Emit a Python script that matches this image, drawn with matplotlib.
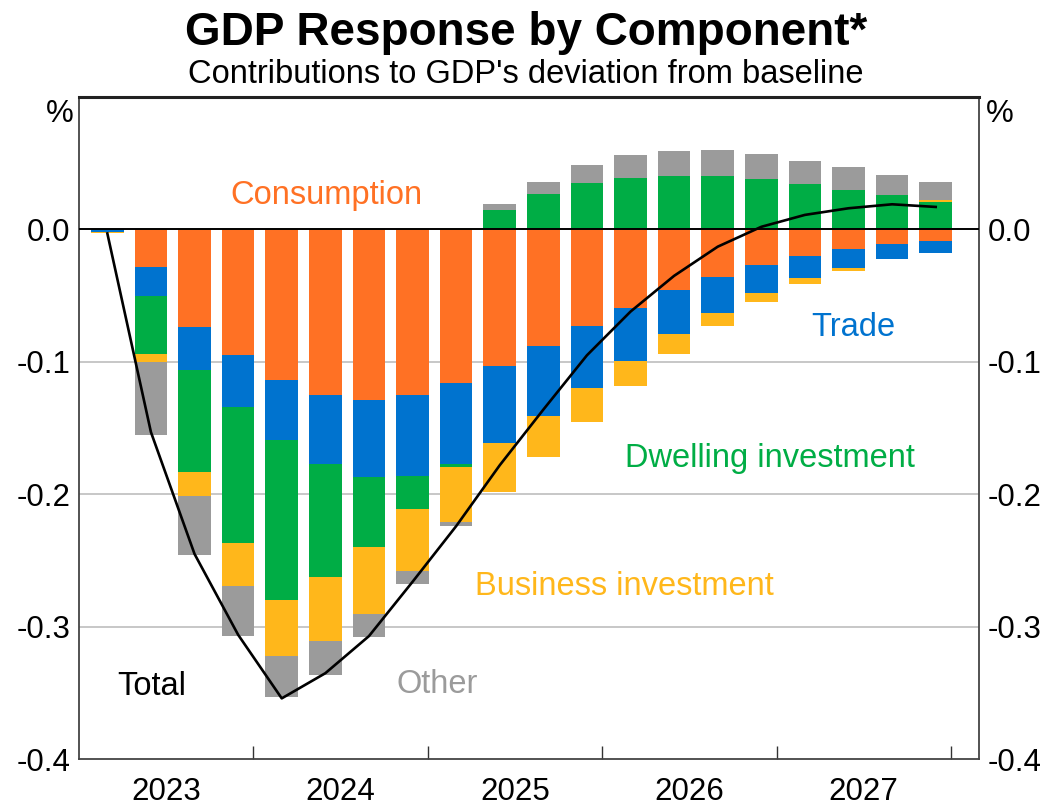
import numpy as np
import matplotlib
matplotlib.use("Agg")
import matplotlib.pyplot as plt

plt.rcParams['font.family'] = ['Liberation Sans', 'DejaVu Sans']

# Contributions to GDP's deviation from baseline, % (quarterly, 2023 Q1 - 2027 Q4)
consumption = [0.0, -0.028, -0.074, -0.095, -0.114, -0.125, -0.129, -0.125, -0.116, -0.103,
               -0.088, -0.073, -0.059, -0.046, -0.036, -0.027, -0.020, -0.015, -0.011, -0.009]
trade = [-0.002, -0.022, -0.032, -0.039, -0.045, -0.052, -0.058, -0.061, -0.061, -0.058,
         -0.053, -0.047, -0.040, -0.033, -0.027, -0.021, -0.017, -0.014, -0.011, -0.009]
dwelling = [0.0, -0.044, -0.077, -0.103, -0.121, -0.085, -0.053, -0.025, -0.002, 0.015,
            0.027, 0.035, 0.039, 0.040, 0.040, 0.038, 0.034, 0.030, 0.026, 0.021]
business = [-0.001, -0.006, -0.018, -0.032, -0.042, -0.049, -0.050, -0.047, -0.042, -0.037,
            -0.031, -0.025, -0.019, -0.015, -0.010, -0.007, -0.004, -0.002, 0.0, 0.0015]
other = [0.0, -0.055, -0.045, -0.038, -0.031, -0.025, -0.018, -0.010, -0.003, 0.004,
         0.009, 0.014, 0.017, 0.019, 0.020, 0.019, 0.018, 0.017, 0.015, 0.013]
total = [-0.003, -0.153, -0.245, -0.306, -0.354, -0.335, -0.307, -0.266, -0.224, -0.178,
         -0.136, -0.095, -0.062, -0.035, -0.013, 0.002, 0.011, 0.016, 0.019, 0.017]
years = ['2023', '2024', '2025', '2026', '2027']

series = [
    ('Consumption', consumption, '#FF7124'),
    ('Trade', trade, '#0073CF'),
    ('Dwelling investment', dwelling, '#00AD45'),
    ('Business investment', business, '#FFB71B'),
    ('Other', other, '#9B9B9B'),
]

x = np.arange(len(total))

fig = plt.figure(figsize=(10.52, 8.07), dpi=100)
ax = fig.add_axes([0.0751, 0.0591, 0.8558, 0.8207])

# stack positives and negatives separately
pos_base = np.zeros(len(x))
neg_base = np.zeros(len(x))
for name, vals, col in series:
    v = np.array(vals)
    base = np.where(v >= 0, pos_base, neg_base)
    ax.bar(x, v, bottom=base, width=0.75, color=col, linewidth=0, zorder=2)
    pos_base = pos_base + np.where(v > 0, v, 0)
    neg_base = neg_base + np.where(v < 0, v, 0)

ax.plot(x, total, color='black', lw=1.9, zorder=4)

ax.set_ylim(-0.4, 0.1)
ax.set_xlim(-0.65, 20.0)

# grid and zero line
for g in [-0.1, -0.2, -0.3]:
    ax.axhline(g, color='#BEBEBE', lw=1.2, zorder=1)
ax.axhline(0, color='black', lw=1.4, zorder=3)

ax.set_yticks([-0.4, -0.3, -0.2, -0.1, 0.0])
ax.set_yticklabels(['-0.4', '-0.3', '-0.2', '-0.1', '0.0'])
ax.tick_params(axis='y', length=0, labelsize=22.5, pad=6,
               labelleft=True, labelright=True)

year_edges = [3.35 + 4 * k for k in range(5)]
year_mids = [1.35 + 4 * k for k in range(5)]
ax.set_xticks(year_edges)
ax.set_xticklabels([])
ax.tick_params(axis='x', which='major', direction='in', length=9.5, width=1.0, color='#333333')
ax.set_xticks(year_mids, minor=True)
ax.set_xticklabels(years, minor=True)
ax.tick_params(axis='x', which='minor', length=0, labelsize=22.5, pad=13)

for side in ['left', 'right', 'bottom']:
    ax.spines[side].set_color('#444444')
    ax.spines[side].set_linewidth(1.3)
ax.spines['top'].set_color('#222222')
ax.spines['top'].set_linewidth(2.2)

# series labels
lab_kw = dict(fontsize=23.5, ha='center', va='baseline', zorder=5)
ax.text(5.03, 0.0195, 'Consumption', color='#FF7124', **lab_kw)
ax.text(17.1, -0.0802, 'Trade', color='#0073CF', **lab_kw)
ax.text(15.19, -0.179, 'Dwelling investment', color='#00AD45', **lab_kw)
ax.text(11.86, -0.2762, 'Business investment', color='#FFB71B', **lab_kw)
ax.text(1.02, -0.3514, 'Total', color='black', **lab_kw)
ax.text(7.57, -0.350, 'Other', color='#9B9B9B', **lab_kw)

ax.text(-0.021, 0.962, '%', transform=ax.transAxes, fontsize=22.5, ha='center', va='baseline')
ax.text(1.023, 0.962, '%', transform=ax.transAxes, fontsize=22.5, ha='center', va='baseline')

fig.text(0.5, 0.944, 'GDP Response by Component*', fontsize=33, fontweight='bold',
         ha='center', va='baseline')
fig.text(0.5, 0.897, "Contributions to GDP's deviation from baseline", fontsize=23.5,
         ha='center', va='baseline')

fig.savefig('out.png', dpi=100)
